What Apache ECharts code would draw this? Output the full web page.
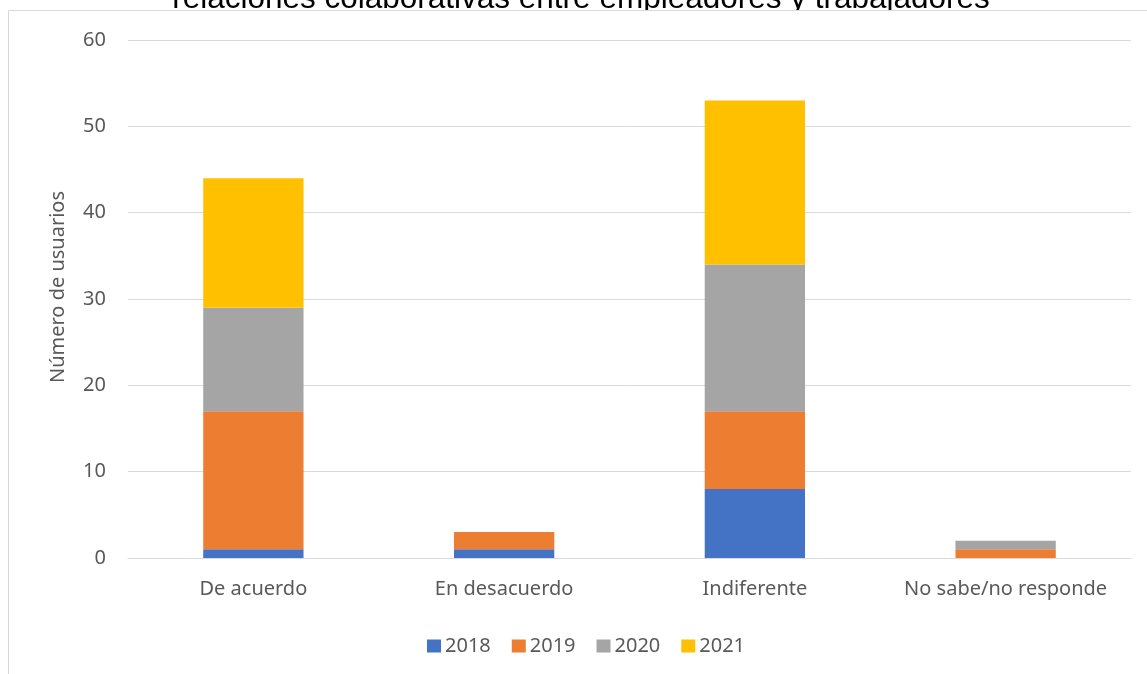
<!DOCTYPE html>
<html>
<head>
<meta charset="utf-8">
<script src="https://cdn.jsdelivr.net/npm/echarts@6/dist/echarts.min.js"></script>
<style>
  html, body { margin: 0; padding: 0; background: #fff; }
  #chart { width: 1147px; height: 674px; }
</style>
</head>
<body>
<div id="chart"></div>
<script>
// Respuestas por categoría y año
const categories = ['De acuerdo', 'En desacuerdo', 'Indiferente', 'No sabe/no responde'];
const years = ['2018', '2019', '2020', '2021'];
const values2018 = [1, 1, 8, 0];
const values2019 = [16, 2, 9, 1];
const values2020 = [12, 0, 17, 1];
const values2021 = [15, 0, 19, 0];
const yTicks = [0, 10, 20, 30, 40, 50, 60];

const titleText = 'relaciones colaborativas entre empleadores y trabajadores';
const yAxisTitle = 'Número de usuarios';
const colors = ['#4472C4', '#ED7D31', '#A5A5A5', '#FFC000'];
const seriesValues = [values2018, values2019, values2020, values2021];

const FONT = '"Noto Sans", "Open Sans", sans-serif';
const TEXT = '#595959';
const FS = 20;

const chart = echarts.init(document.getElementById('chart'), null, { renderer: 'canvas' });

chart.setOption({
  animation: false,
  color: colors,
  textStyle: { fontFamily: FONT, color: TEXT },
  grid: { left: 128, right: 16, top: 40, bottom: 116, containLabel: false },
  legend: {
    data: years,
    top: 631,
    left: 422,
    itemWidth: 14,
    itemHeight: 13,
    itemGap: 21,
    icon: 'rect',
    textStyle: { fontFamily: FONT, fontSize: FS, color: TEXT, padding: [0, 0, 0, -1] }
  },
  xAxis: {
    type: 'category',
    data: categories,
    axisLine: { show: true, lineStyle: { color: '#D9D9D9', width: 1 } },
    axisTick: { show: false },
    axisLabel: { fontFamily: FONT, fontSize: FS, color: TEXT, margin: 21, interval: 0 }
  },
  yAxis: {
    type: 'value',
    min: yTicks[0],
    max: yTicks[yTicks.length - 1],
    interval: 10,
    name: yAxisTitle,
    nameLocation: 'middle',
    nameGap: 60,
    nameRotate: 90,
    nameTextStyle: { fontFamily: FONT, fontSize: FS, color: TEXT, padding: [0, 0, 0, 24] },
    axisLine: { show: false },
    axisTick: { show: false },
    axisLabel: { fontFamily: FONT, fontSize: FS, color: TEXT, margin: 22 },
    splitLine: { lineStyle: { color: '#D9D9D9', width: 1 } }
  },
  series: years.map((y, i) => ({
    name: y,
    type: 'bar',
    stack: 'total',
    barWidth: '40%',
    data: seriesValues[i],
    itemStyle: { color: colors[i] }
  })),
  graphic: [
    {
      type: 'text',
      z: 10,
      x: 581,
      y: -1,
      style: {
        text: titleText,
        font: '31.5px "Liberation Sans", Arial, sans-serif',
        fill: '#000',
        align: 'center',
        verticalAlign: 'middle'
      }
    },
    // area below the header line, hides title descenders
    {
      type: 'rect', z: 11,
      shape: { x: 0, y: 11, width: 1147, height: 20 },
      style: { fill: '#fff' }
    },
    // chart frame
    {
      type: 'polyline', z: 12,
      shape: { points: [[8.5, 674], [8.5, 10.5], [1147, 10.5]] },
      style: { stroke: '#D9D9D9', lineWidth: 1, fill: null }
    }
  ]
});
</script>
</body>
</html>
